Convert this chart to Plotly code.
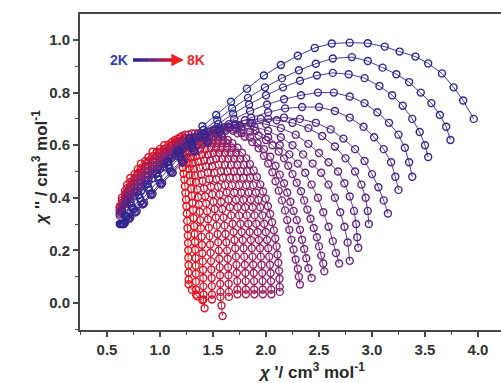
import plotly.graph_objects as go

# Temperatures (K) of the Cole-Cole curves, 2 K (blue) -> 8 K (red)
temps = [2.00, 2.25, 2.50, 2.75, 3.00, 3.25, 3.50, 3.75, 4.00, 4.25, 4.50, 4.75, 5.00,
         5.25, 5.50, 5.75, 6.00, 6.25, 6.50, 6.75, 7.00, 7.25, 7.50, 7.75, 8.00]

x_2_00 = [0.62,0.67,0.73,0.80,0.88,0.97,1.07,1.17,1.28,1.40,1.53,1.67,1.82,1.98,2.14,2.30,2.46,2.62,2.79,2.96,3.12,3.26,3.41,3.53,3.66,3.77,3.86,3.96]
y_2_00 = [0.30,0.333,0.37,0.41,0.452,0.492,0.537,0.58,0.627,0.672,0.715,0.765,0.815,0.865,0.905,0.94,0.97,0.987,0.99,0.988,0.975,0.956,0.937,0.911,0.873,0.82,0.77,0.70]
x_2_25 = [0.63,0.68,0.74,0.81,0.89,0.98,1.08,1.18,1.29,1.41,1.54,1.68,1.83,1.99,2.15,2.31,2.47,2.63,2.81,2.96,3.10,3.23,3.35,3.46,3.56,3.64,3.70,3.74]
y_2_25 = [0.30,0.33,0.36,0.398,0.44,0.48,0.525,0.568,0.612,0.658,0.695,0.74,0.78,0.82,0.855,0.885,0.91,0.93,0.935,0.92,0.895,0.87,0.84,0.80,0.76,0.715,0.67,0.62]
x_2_50 = [0.64,0.69,0.75,0.82,0.90,0.99,1.09,1.19,1.30,1.42,1.55,1.69,1.84,2.00,2.16,2.32,2.48,2.63,2.78,2.93,3.07,3.19,3.29,3.38,3.45,3.50,3.53]
y_2_50 = [0.30,0.328,0.355,0.388,0.428,0.468,0.512,0.556,0.60,0.643,0.68,0.72,0.755,0.79,0.82,0.845,0.865,0.875,0.87,0.855,0.825,0.79,0.75,0.70,0.65,0.60,0.555]
x_2_75 = [0.65,0.70,0.76,0.83,0.91,1.00,1.10,1.20,1.31,1.43,1.56,1.70,1.85,2.01,2.17,2.33,2.49,2.64,2.79,2.93,3.05,3.16,3.25,3.31,3.35,3.38]
y_2_75 = [0.30,0.32,0.345,0.375,0.415,0.455,0.50,0.545,0.59,0.63,0.665,0.70,0.73,0.755,0.775,0.79,0.80,0.80,0.785,0.76,0.725,0.685,0.64,0.59,0.535,0.48]
x_3_00 = [0.66,0.71,0.77,0.84,0.92,1.01,1.11,1.21,1.32,1.44,1.57,1.71,1.86,2.02,2.18,2.34,2.50,2.65,2.79,2.92,3.02,3.11,3.18,3.22,3.25]
y_3_00 = [0.30,0.32,0.345,0.375,0.41,0.45,0.495,0.54,0.58,0.615,0.65,0.68,0.705,0.725,0.74,0.745,0.745,0.73,0.705,0.67,0.63,0.585,0.535,0.48,0.43]
x_3_25 = [0.67,0.72,0.78,0.85,0.93,1.02,1.12,1.22,1.33,1.45,1.58,1.72,1.87,2.02,2.17,2.32,2.47,2.61,2.73,2.84,2.93,3.00,3.06,3.11,3.15]
y_3_25 = [0.305,0.325,0.35,0.38,0.415,0.455,0.495,0.535,0.575,0.61,0.64,0.665,0.685,0.70,0.705,0.70,0.685,0.66,0.625,0.585,0.54,0.49,0.44,0.39,0.34]
x_3_50 = [0.64,0.72,0.82,0.93,1.04,1.15,1.26,1.38,1.51,1.65,1.80,1.95,2.10,2.25,2.40,2.53,2.65,2.75,2.84,2.90,2.94,2.96,2.97]
y_3_50 = [0.342,0.384,0.426,0.474,0.516,0.56,0.598,0.632,0.66,0.68,0.695,0.70,0.695,0.685,0.665,0.635,0.595,0.55,0.50,0.45,0.40,0.35,0.30]
x_3_75 = [0.67,0.76,0.86,0.97,1.08,1.19,1.30,1.42,1.55,1.70,1.85,2.00,2.14,2.28,2.40,2.50,2.59,2.68,2.74,2.79,2.83,2.85,2.86,2.87]
y_3_75 = [0.364,0.408,0.452,0.496,0.536,0.575,0.61,0.64,0.66,0.678,0.685,0.68,0.665,0.64,0.605,0.57,0.535,0.50,0.455,0.405,0.35,0.30,0.25,0.21]
x_4_00 = [0.62,0.69,0.79,0.89,1.00,1.11,1.22,1.34,1.47,1.61,1.75,1.89,2.02,2.14,2.25,2.35,2.44,2.52,2.59,2.65,2.70,2.74,2.77,2.79]
y_4_00 = [0.332,0.38,0.425,0.467,0.51,0.551,0.589,0.625,0.652,0.668,0.675,0.67,0.655,0.63,0.60,0.565,0.53,0.495,0.45,0.40,0.345,0.29,0.23,0.16]
x_4_25 = [0.64,0.72,0.82,0.93,1.04,1.15,1.26,1.37,1.50,1.64,1.77,1.90,2.02,2.13,2.22,2.30,2.37,2.43,2.49,2.54,2.59,2.63,2.66,2.69]
y_4_25 = [0.351,0.399,0.443,0.491,0.529,0.571,0.605,0.635,0.658,0.67,0.668,0.655,0.63,0.60,0.565,0.53,0.495,0.45,0.40,0.345,0.29,0.235,0.19,0.15]
x_4_50 = [0.67,0.76,0.86,0.97,1.08,1.19,1.30,1.41,1.53,1.65,1.77,1.85,1.93,2.00,2.06,2.12,2.17,2.21,2.25,2.29,2.33,2.36,2.39,2.42,2.45,2.48,2.50,2.52,2.54,2.55]
y_4_50 = [0.376,0.424,0.468,0.511,0.549,0.584,0.615,0.64,0.658,0.665,0.66,0.652,0.637,0.62,0.60,0.576,0.55,0.522,0.49,0.457,0.425,0.39,0.355,0.32,0.285,0.25,0.215,0.18,0.15,0.12]
x_4_75 = [0.62,0.69,0.79,0.89,1.00,1.11,1.22,1.33,1.45,1.57,1.69,1.77,1.85,1.92,1.98,2.04,2.09,2.13,2.17,2.20,2.23,2.26,2.29,2.32,2.34,2.36,2.38,2.40,2.43]
y_4_75 = [0.339,0.394,0.442,0.485,0.525,0.563,0.597,0.628,0.65,0.66,0.655,0.645,0.63,0.607,0.585,0.556,0.522,0.488,0.455,0.42,0.385,0.35,0.315,0.278,0.24,0.205,0.17,0.132,0.095]
x_5_00 = [0.64,0.72,0.82,0.93,1.04,1.15,1.26,1.38,1.50,1.62,1.73,1.80,1.87,1.93,1.98,2.02,2.06,2.09,2.12,2.15,2.18,2.20,2.22,2.24,2.26,2.28,2.30,2.31,2.32]
y_5_00 = [0.361,0.414,0.461,0.508,0.544,0.582,0.612,0.64,0.655,0.655,0.645,0.632,0.612,0.588,0.56,0.53,0.497,0.463,0.427,0.39,0.352,0.315,0.278,0.24,0.203,0.165,0.13,0.10,0.07]
x_5_25 = [0.67,0.76,0.86,0.97,1.08,1.19,1.29,1.37,1.45,1.585,1.64,1.682,1.732,1.773,1.814,1.848,1.884,1.914,1.946,1.972,1.997,2.018,2.039,2.057,2.074,2.087,2.099,2.108,2.116,2.123,2.127,2.129,2.13]
y_5_25 = [0.389,0.44,0.486,0.527,0.562,0.594,0.618,0.634,0.645,0.633,0.62,0.608,0.59,0.571,0.55,0.528,0.504,0.479,0.451,0.424,0.396,0.368,0.338,0.307,0.276,0.245,0.215,0.184,0.153,0.122,0.092,0.061,0.042]
x_5_50 = [0.62,0.69,0.79,0.89,1.00,1.11,1.22,1.32,1.42,1.545,1.596,1.635,1.681,1.719,1.757,1.789,1.822,1.85,1.879,1.904,1.927,1.946,1.966,1.983,1.998,2.01,2.021,2.03,2.037,2.043,2.047,2.049,2.05]
y_5_50 = [0.347,0.408,0.459,0.502,0.541,0.575,0.606,0.63,0.645,0.633,0.62,0.608,0.589,0.57,0.548,0.526,0.501,0.476,0.448,0.42,0.392,0.364,0.333,0.301,0.27,0.239,0.208,0.176,0.145,0.114,0.083,0.051,0.033]
x_5_75 = [0.64,0.72,0.82,0.93,1.04,1.15,1.26,1.39,1.505,1.552,1.588,1.631,1.666,1.70,1.73,1.76,1.786,1.813,1.835,1.856,1.874,1.892,1.908,1.922,1.933,1.943,1.951,1.958,1.964,1.967,1.969,1.97]
y_5_75 = [0.371,0.429,0.478,0.524,0.558,0.592,0.619,0.645,0.633,0.62,0.608,0.589,0.57,0.548,0.526,0.501,0.476,0.448,0.42,0.392,0.364,0.333,0.301,0.27,0.239,0.208,0.176,0.145,0.114,0.083,0.051,0.033]
x_6_00 = [0.67,0.76,0.86,0.97,1.08,1.19,1.28,1.36,1.465,1.508,1.541,1.58,1.612,1.644,1.671,1.698,1.722,1.746,1.767,1.786,1.803,1.819,1.833,1.846,1.857,1.866,1.873,1.879,1.884,1.887,1.889,1.89]
y_6_00 = [0.402,0.457,0.504,0.543,0.575,0.604,0.628,0.645,0.633,0.62,0.608,0.589,0.57,0.548,0.526,0.501,0.476,0.448,0.42,0.392,0.364,0.333,0.301,0.27,0.239,0.208,0.176,0.145,0.114,0.083,0.051,0.033]
x_6_25 = [0.62,0.69,0.79,0.89,1.00,1.11,1.22,1.33,1.426,1.464,1.494,1.529,1.558,1.587,1.611,1.636,1.658,1.68,1.699,1.716,1.731,1.746,1.759,1.77,1.78,1.788,1.795,1.80,1.805,1.808,1.81,1.81]
y_6_25 = [0.353,0.422,0.476,0.519,0.556,0.587,0.615,0.645,0.633,0.62,0.608,0.589,0.57,0.548,0.526,0.501,0.476,0.448,0.42,0.392,0.364,0.333,0.301,0.27,0.239,0.208,0.176,0.145,0.114,0.083,0.051,0.033]
x_6_50 = [0.64,0.72,0.82,0.93,1.04,1.15,1.23,1.30,1.386,1.42,1.447,1.478,1.504,1.53,1.552,1.574,1.594,1.613,1.63,1.646,1.659,1.672,1.684,1.694,1.703,1.71,1.716,1.721,1.725,1.728,1.73,1.73]
y_6_50 = [0.38,0.444,0.495,0.541,0.571,0.603,0.627,0.645,0.633,0.62,0.608,0.589,0.57,0.548,0.526,0.501,0.476,0.448,0.42,0.392,0.364,0.333,0.301,0.27,0.239,0.208,0.176,0.145,0.114,0.083,0.051,0.033]
x_6_75 = [0.67,0.76,0.86,0.97,1.08,1.19,1.27,1.346,1.376,1.40,1.428,1.451,1.473,1.493,1.512,1.53,1.547,1.562,1.576,1.587,1.599,1.609,1.618,1.626,1.633,1.638,1.642,1.646,1.648,1.65,1.65]
y_6_75 = [0.414,0.473,0.521,0.559,0.588,0.614,0.64,0.627,0.615,0.602,0.583,0.564,0.542,0.52,0.495,0.47,0.442,0.413,0.385,0.357,0.325,0.294,0.262,0.231,0.199,0.168,0.136,0.105,0.073,0.042,0.023]
x_7_00 = [0.62,0.69,0.79,0.89,1.00,1.11,1.24,1.306,1.332,1.353,1.377,1.397,1.417,1.433,1.451,1.465,1.481,1.493,1.505,1.516,1.526,1.535,1.543,1.549,1.555,1.559,1.563,1.566,1.568,1.57,1.57,1.58,1.59]
y_7_00 = [0.361,0.436,0.492,0.537,0.571,0.599,0.64,0.627,0.615,0.602,0.583,0.564,0.542,0.52,0.495,0.47,0.442,0.413,0.385,0.357,0.325,0.294,0.262,0.231,0.199,0.168,0.136,0.105,0.073,0.042,0.023,-0.01,-0.05]
x_7_25 = [0.64,0.72,0.82,0.93,1.04,1.15,1.21,1.266,1.288,1.305,1.326,1.343,1.36,1.374,1.389,1.401,1.414,1.425,1.435,1.444,1.452,1.46,1.467,1.472,1.477,1.481,1.484,1.487,1.489,1.49,1.49]
y_7_25 = [0.39,0.46,0.512,0.558,0.586,0.614,0.635,0.622,0.61,0.597,0.578,0.559,0.537,0.514,0.489,0.464,0.435,0.406,0.378,0.349,0.318,0.286,0.254,0.222,0.191,0.159,0.127,0.095,0.064,0.032,0.013]
x_7_50 = [0.67,0.76,0.86,0.97,1.08,1.19,1.234,1.252,1.265,1.281,1.295,1.308,1.319,1.33,1.34,1.35,1.359,1.367,1.374,1.381,1.386,1.392,1.396,1.40,1.403,1.406,1.408,1.409,1.41,1.41,1.42]
y_7_50 = [0.427,0.49,0.539,0.575,0.602,0.63,0.617,0.605,0.592,0.573,0.554,0.532,0.51,0.485,0.46,0.432,0.403,0.375,0.347,0.315,0.284,0.252,0.221,0.189,0.158,0.126,0.095,0.063,0.032,0.013,-0.02]
x_7_75 = [0.62,0.69,0.79,0.89,1.00,1.11,1.17,1.204,1.218,1.228,1.241,1.251,1.261,1.27,1.278,1.286,1.294,1.301,1.307,1.312,1.317,1.322,1.326,1.329,1.332,1.335,1.337,1.338,1.339,1.34,1.34]
y_7_75 = [0.367,0.45,0.509,0.554,0.586,0.611,0.625,0.613,0.601,0.589,0.571,0.552,0.531,0.51,0.486,0.462,0.434,0.407,0.38,0.353,0.323,0.292,0.262,0.232,0.202,0.171,0.141,0.111,0.081,0.05,0.032]
x_8_00 = [0.64,0.72,0.82,0.93,1.04,1.14,1.166,1.176,1.184,1.194,1.202,1.21,1.216,1.223,1.229,1.235,1.24,1.245,1.249,1.253,1.256,1.259,1.262,1.264,1.266,1.267,1.269,1.269,1.27,1.27,1.30,1.35,1.40]
y_8_00 = [0.40,0.475,0.53,0.575,0.60,0.62,0.609,0.598,0.586,0.57,0.553,0.533,0.514,0.491,0.469,0.444,0.418,0.393,0.368,0.34,0.312,0.284,0.256,0.228,0.20,0.172,0.144,0.116,0.088,0.071,0.05,0.025,0.01]

x_ticks = [0.5, 1.0, 1.5, 2.0, 2.5, 3.0, 3.5, 4.0]
y_ticks = [0.0, 0.2, 0.4, 0.6, 0.8, 1.0]

series = [(x_2_00, y_2_00), (x_2_25, y_2_25), (x_2_50, y_2_50), (x_2_75, y_2_75),
          (x_3_00, y_3_00), (x_3_25, y_3_25), (x_3_50, y_3_50), (x_3_75, y_3_75),
          (x_4_00, y_4_00), (x_4_25, y_4_25), (x_4_50, y_4_50), (x_4_75, y_4_75),
          (x_5_00, y_5_00), (x_5_25, y_5_25), (x_5_50, y_5_50), (x_5_75, y_5_75),
          (x_6_00, y_6_00), (x_6_25, y_6_25), (x_6_50, y_6_50), (x_6_75, y_6_75),
          (x_7_00, y_7_00), (x_7_25, y_7_25), (x_7_50, y_7_50), (x_7_75, y_7_75),
          (x_8_00, y_8_00)]

C_BLUE = (38, 38, 145)
C_MID = (125, 35, 120)
C_RED = (235, 15, 25)


def mix(c1, c2, t):
    return tuple(round(a + (b - a) * t) for a, b in zip(c1, c2))


def temp_color(t):
    if t <= 0.5:
        c = mix(C_BLUE, C_MID, t / 0.5)
    else:
        c = mix(C_MID, C_RED, (t - 0.5) / 0.5)
    return "rgb(%d,%d,%d)" % c


n = len(series)
fig = go.Figure()
for k in reversed(range(n)):
    xs, ys = series[k]
    col = temp_color(k / (n - 1))
    fig.add_trace(go.Scatter(
        x=xs, y=ys, mode="lines+markers", name="%.2f K" % temps[k],
        line=dict(color=col, width=0.9),
        marker=dict(symbol="circle-open", size=7, color=col, line=dict(width=1.4, color=col)),
        showlegend=False, hoverinfo="skip"))

# gradient arrow 2K -> 8K
x0a, x1a, ya = 0.745, 1.17, 0.924
nseg = 10
for i in range(nseg):
    xa = x0a + (x1a - x0a) * i / nseg
    xb = x0a + (x1a - x0a) * (i + 1) / nseg + 0.005
    fig.add_shape(type="line", x0=xa, x1=xb, y0=ya, y1=ya, xref="x", yref="y",
                  line=dict(color=temp_color(i / (nseg - 1)), width=3.5))
fig.add_annotation(x=1.225, y=ya, ax=1.15, ay=ya, xref="x", yref="y", axref="x", ayref="y",
                   text="", showarrow=True, arrowhead=2, arrowsize=1, arrowwidth=2.5,
                   arrowcolor="rgb(240,30,30)")
fig.add_annotation(x=0.615, y=ya, xref="x", yref="y", text="<b>2K</b>", showarrow=False,
                   font=dict(family="Liberation Sans, Arial", size=14, color="rgb(50,60,180)"))
fig.add_annotation(x=1.335, y=ya, xref="x", yref="y", text="<b>8K</b>", showarrow=False,
                   font=dict(family="Liberation Sans, Arial", size=14, color="rgb(240,40,40)"))

# axis titles
fig.add_annotation(x=0.55, y=-0.13, xref="paper", yref="paper", yanchor="middle",
                   text="<b><i>χ</i> '/ cm<sup>3</sup> mol<sup>-1</sup></b>", showarrow=False,
                   font=dict(family="Liberation Sans, Arial", size=17, color="rgb(40,40,40)"))
fig.add_annotation(x=-0.125, y=0.515, xref="paper", yref="paper", textangle=-90,
                   text="<b><i>χ</i> '' / cm<sup>3</sup> mol<sup>-1</sup></b>", showarrow=False,
                   font=dict(family="Liberation Sans, Arial", size=17, color="rgb(40,40,40)"))

axis_common = dict(showgrid=False, zeroline=False, showline=True, linecolor="rgb(70,70,70)",
                   linewidth=2, ticks="outside", ticklen=5, tickwidth=1.5,
                   tickcolor="rgb(70,70,70)",
                   tickfont=dict(family="Liberation Sans, Arial", size=15,
                                 color="rgb(50,50,50)", weight="bold"))

fig.update_xaxes(range=[0.245, 4.217], tickvals=x_ticks, ticktext=["%.1f" % v for v in x_ticks],
                 mirror=True,
                 minor=dict(dtick=0.25, tick0=0.25, ticks="outside", ticklen=3, tickwidth=1.2,
                            tickcolor="rgb(70,70,70)"),
                 **axis_common)
fig.update_yaxes(range=[-0.103, 1.099], tickvals=y_ticks, ticktext=["%.1f" % v for v in y_ticks],
                 minor=dict(dtick=0.1, tick0=0.0, ticks="outside", ticklen=3, tickwidth=1.2,
                            tickcolor="rgb(70,70,70)"),
                 **axis_common)

fig.update_layout(width=501, height=383, margin=dict(l=80, r=0, t=14, b=53),
                  paper_bgcolor="white", plot_bgcolor="white", showlegend=False)

fig.write_html("out.html")
